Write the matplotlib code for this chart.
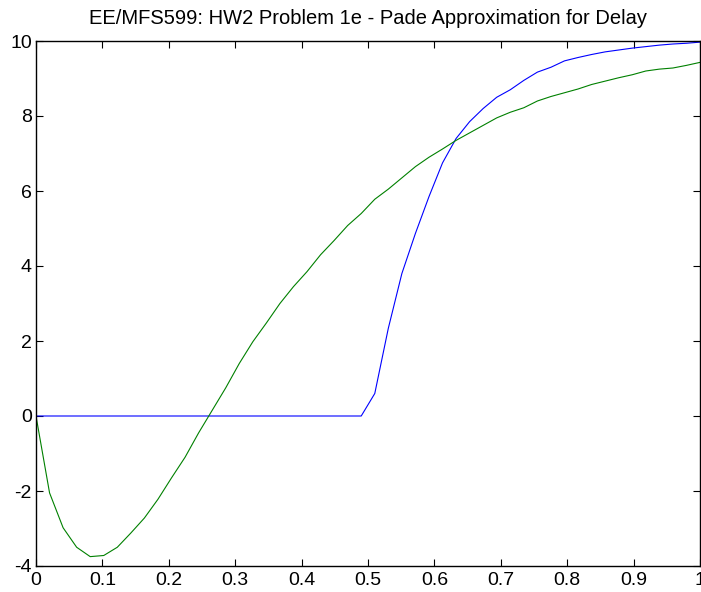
import numpy as np
import matplotlib
matplotlib.use("Agg")
import matplotlib.pyplot as plt

plt.rcParams['font.family'] = ['Liberation Sans', 'DejaVu Sans']
plt.rcParams['axes.unicode_minus'] = False

# sample times (50 points from 0 to 1)
t = np.linspace(0, 1, 50)

# exact delayed step response (blue)
y_delay = [0, 0, 0, 0, 0, 0, 0, 0, 0, 0,
           0, 0, 0, 0, 0, 0, 0, 0, 0, 0,
           0, 0, 0, 0, 0, 0.6, 2.34, 3.8, 4.87, 5.85,
           6.75, 7.4, 7.85, 8.2, 8.5, 8.7, 8.95, 9.17, 9.3, 9.47,
           9.56, 9.64, 9.71, 9.76, 9.81, 9.85, 9.89, 9.92, 9.94, 9.97]

# pade approximation step response (green)
y_pade = [0, -2.05, -2.98, -3.5, -3.75, -3.72, -3.5, -3.12, -2.72, -2.22,
          -1.65, -1.1, -0.45, 0.15, 0.75, 1.4, 1.98, 2.48, 3.0, 3.45,
          3.85, 4.3, 4.68, 5.08, 5.4, 5.78, 6.05, 6.35, 6.65, 6.9,
          7.12, 7.35, 7.55, 7.75, 7.95, 8.1, 8.22, 8.4, 8.52, 8.62,
          8.72, 8.84, 8.93, 9.02, 9.1, 9.2, 9.25, 9.28, 9.35, 9.43]

xticks = [0, 0.1, 0.2, 0.3, 0.4, 0.5, 0.6, 0.7, 0.8, 0.9, 1]
xlabels = ['0', '0.1', '0.2', '0.3', '0.4', '0.5', '0.6', '0.7', '0.8', '0.9', '1']
yticks = [-4, -2, 0, 2, 4, 6, 8, 10]

fig = plt.figure(figsize=(7.01, 5.92), dpi=100)
ax = fig.add_axes([36 / 701, 26 / 592, 664 / 701, 525 / 592])

ax.plot(t, y_delay, color='#0000ff', linewidth=0.8)
ax.plot(t, y_pade, color='#008000', linewidth=0.8)

ax.set_xlim(0, 1)
ax.set_ylim(-4, 10)
ax.set_xticks(xticks)
ax.set_xticklabels(xlabels)
ax.set_yticks(yticks)
ax.set_yticklabels([str(v) for v in yticks])
ax.tick_params(direction='in', top=True, right=True, length=5, width=0.8,
               labelsize=14, pad=4)
ax.tick_params(axis='y', pad=3)
for sp in ax.spines.values():
    sp.set_linewidth(1.0)

ax.set_title('EE/MFS599: HW2 Problem 1e - Pade Approximation for Delay',
             fontsize=14.5, pad=12)

fig.savefig('out.png', dpi=100)
